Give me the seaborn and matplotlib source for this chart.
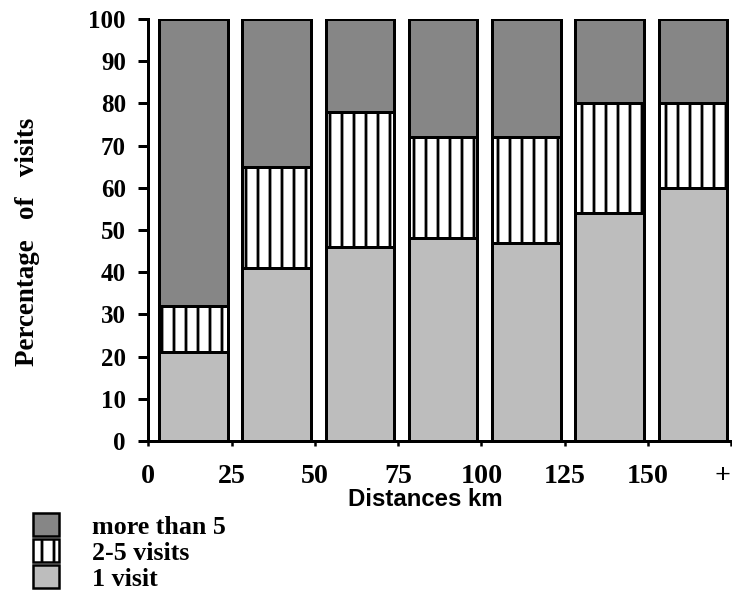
import matplotlib
matplotlib.use("Agg")
import matplotlib.pyplot as plt
import matplotlib.transforms as mtransforms
from matplotlib.patches import Patch
import seaborn as sns
import pandas as pd
import numpy as np

# Data
distance_bins = ["0-25", "25-50", "50-75", "75-100", "100-125", "125-150", "150+"]
one_visit = [21, 41, 46, 48, 47, 54, 60]
two_five_visits = [11, 24, 32, 24, 25, 26, 20]
more_than_5 = [68, 35, 22, 28, 28, 20, 20]
tick_labels = ["0", "25", "50", "75", "100", "125", "150", "+"]
y_ticks = [0, 10, 20, 30, 40, 50, 60, 70, 80, 90, 100]

sns.set_style("white")
plt.rcParams["hatch.linewidth"] = 2.8
plt.rcParams["hatch.color"] = "black"
plt.rcParams["text.color"] = "black"
plt.rcParams["axes.labelcolor"] = "black"

df = pd.DataFrame({
    "bin": distance_bins,
    "one": one_visit,
    "two_five": two_five_visits,
    "more": more_than_5,
})
df["cum2"] = df["one"] + df["two_five"]
df["cum3"] = df["cum2"] + df["more"]

W, H = 732, 595
fig = plt.figure(figsize=(W / 72, H / 72), dpi=72)
ax = fig.add_axes([148 / W, 1 - 441 / H, (732 - 148) / W, (441 - 19) / H])

c_more = "#868686"
c_one = "#bdbdbd"
lw = 3
width = 0.82

sns.barplot(data=df, x="bin", y="cum3", ax=ax, color=c_more, width=width,
            edgecolor="black", linewidth=lw, saturation=1)
sns.barplot(data=df, x="bin", y="cum2", ax=ax, color="white", width=width,
            edgecolor="black", linewidth=lw, hatch="|", saturation=1)
sns.barplot(data=df, x="bin", y="one", ax=ax, color=c_one, width=width,
            edgecolor="black", linewidth=lw, saturation=1)

ax.set_xlim(-0.545, 6.47)
ax.set_ylim(0, 100)
ax.set_xticks(np.arange(len(tick_labels)) - 0.54)
ax.set_xticklabels(tick_labels)
ax.set_yticks(y_ticks)

sns.despine(ax=ax, top=True, right=True)
for s in ("left", "bottom"):
    ax.spines[s].set_linewidth(3)
    ax.spines[s].set_color("black")
ax.tick_params(axis="y", direction="out", length=10, width=3, pad=12, left=True, colors="black")
ax.tick_params(axis="x", direction="out", length=5, width=2.5, pad=18, bottom=True, colors="black")

for lab in ax.get_xticklabels():
    lab.set_fontfamily("Liberation Serif")
    lab.set_fontweight("bold")
    lab.set_fontsize(28)
for lab in ax.get_yticklabels():
    lab.set_fontfamily("Liberation Serif")
    lab.set_fontweight("bold")
    lab.set_fontsize(25)

# shift the "+" label slightly left so it stays inside the figure
last = ax.get_xticklabels()[-1]
last.set_transform(last.get_transform() +
                   mtransforms.ScaledTranslation(-9 / 72, 0, fig.dpi_scale_trans))

ax.set_xlabel("Distances km", fontfamily="Liberation Sans", fontweight="bold",
              fontsize=24, color="black")
ax.xaxis.set_label_coords(0.475, -(488 - 441) / 422)
ax.set_ylabel("Percentage   of   visits", fontfamily="Liberation Serif",
              fontweight="bold", fontsize=27, color="black")
ax.yaxis.set_label_coords((40 - 148) / 584, 1 - (242 - 19) / 422)

handles = [
    Patch(facecolor=c_more, edgecolor="black", linewidth=2.5, label="more than 5"),
    Patch(facecolor="white", edgecolor="black", linewidth=2.5, hatch="|", label="2-5 visits"),
    Patch(facecolor=c_one, edgecolor="black", linewidth=2.5, label="1 visit"),
]
fig.legend(handles=handles, loc="upper left", bbox_to_anchor=(33 / W, 1 - 513 / H),
           frameon=False, prop={"family": "Liberation Serif", "weight": "bold", "size": 26},
           labelcolor="black",
           handlelength=1.0, handleheight=1.0, handletextpad=1.27, labelspacing=0.02,
           borderaxespad=0, borderpad=0)

fig.savefig("out.png", dpi=72)
